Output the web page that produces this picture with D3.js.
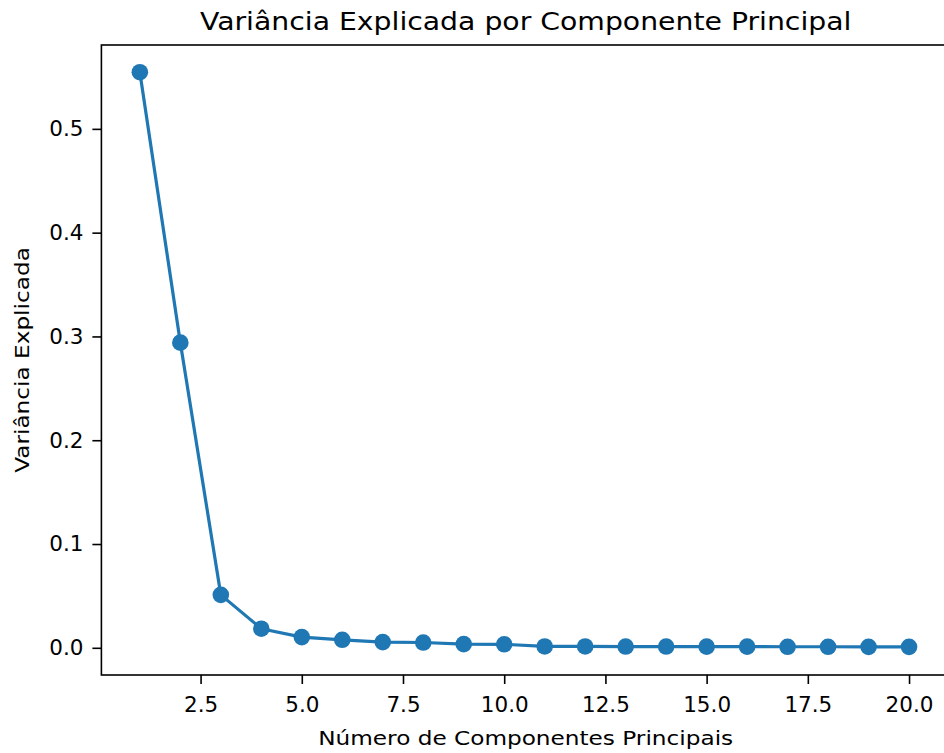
<!DOCTYPE html>
<html>
<head>
<meta charset="utf-8">
<script src="https://cdn.jsdelivr.net/npm/d3@7"></script>
<style>
  body { margin: 0; background: #fff; }
  svg { display: block; font-family: "DejaVu Sans", sans-serif; }
</style>
</head>
<body>
<div id="chart"></div>
<script>
const components = d3.range(1, 21);
const variance = [0.5546, 0.294, 0.051, 0.0184, 0.0103, 0.0077, 0.0055, 0.0051, 0.0035, 0.0034,
                  0.0013, 0.0013, 0.0012, 0.0012, 0.0011, 0.0011, 0.0010, 0.0010, 0.0009, 0.0009];
const xTicks = [2.5, 5.0, 7.5, 10.0, 12.5, 15.0, 17.5, 20.0];
const yTicks = [0.0, 0.1, 0.2, 0.3, 0.4, 0.5];

const W = 944, H = 753;
const margin = {top: 45, right: -3.5, bottom: 78, left: 101.4};
const width = W - margin.left - margin.right;
const height = H - margin.top - margin.bottom;
const blue = "#1f77b4";
const stretch = 1.16; // text in the reference is a bit wider than plain DejaVu

const svg = d3.select("#chart").append("svg")
    .attr("width", W)
    .attr("height", H);

const g = svg.append("g")
    .attr("transform", `translate(${margin.left},${margin.top})`);

const x = d3.scaleLinear().domain([0.05, 20.95]).range([0, width]);
const y = d3.scaleLinear().domain([-0.0262, 0.5808]).range([height, 0]);

// spines
g.append("rect")
    .attr("width", width)
    .attr("height", height)
    .attr("fill", "none")
    .attr("stroke", "#000")
    .attr("stroke-width", 1.6);

const xAxis = g.append("g")
    .attr("transform", `translate(0,${height})`)
    .call(d3.axisBottom(x).tickValues(xTicks).tickFormat(d3.format(".1f")).tickSize(9).tickPadding(13));
xAxis.select(".domain").remove();

const yAxis = g.append("g")
    .call(d3.axisLeft(y).tickValues(yTicks).tickFormat(d3.format(".1f")).tickSize(9).tickPadding(9));
yAxis.select(".domain").remove();

g.selectAll(".tick line").attr("stroke", "#000").attr("stroke-width", 1.6);
g.selectAll(".tick text").attr("fill", "#000").style("font-size", "21.5px").style("font-family", "DejaVu Sans");

const line = d3.line()
    .x((d, i) => x(components[i]))
    .y(d => y(d));

g.append("path")
    .datum(variance)
    .attr("fill", "none")
    .attr("stroke", blue)
    .attr("stroke-width", 3.2)
    .attr("stroke-linejoin", "round")
    .attr("d", line);

g.selectAll(".dot")
    .data(variance)
  .enter().append("circle")
    .attr("class", "dot")
    .attr("cx", (d, i) => x(components[i]))
    .attr("cy", d => y(d))
    .attr("r", 8.3)
    .attr("fill", blue);

const cx = margin.left + (W - margin.left) / 2 + 3;

svg.append("text")
    .attr("transform", `translate(${cx},29.5) scale(${stretch},1)`)
    .attr("text-anchor", "middle")
    .style("font-size", "24.4px")
    .text("Variância Explicada por Componente Principal");

svg.append("text")
    .attr("transform", `translate(${cx},744.5) scale(${stretch},1)`)
    .attr("text-anchor", "middle")
    .style("font-size", "20px")
    .text("Número de Componentes Principais");

svg.append("text")
    .attr("transform", `translate(29,${margin.top + height / 2}) rotate(-90) scale(${stretch},1)`)
    .attr("text-anchor", "middle")
    .style("font-size", "20px")
    .text("Variância Explicada");
</script>
</body>
</html>
